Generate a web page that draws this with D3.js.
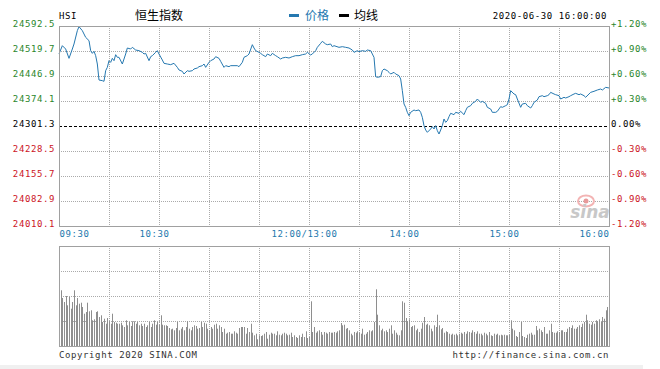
<!DOCTYPE html>
<html>
<head>
<meta charset="utf-8">
<script src="https://cdn.jsdelivr.net/npm/d3@7"></script>
<style>
  body { margin: 0; background: #fff; }
  svg { display: block; }
  .mono { font-family: "DejaVu Sans Mono", monospace; font-size: 9px; letter-spacing: 0.6px; }
  .cjk  { font-family: "Noto Sans CJK SC", sans-serif; font-size: 12px; }
</style>
</head>
<body>
<div id="chart"></div>
<script>
// ── DATA ─────────────────────────────────────────────────────────────────────
const prevClose  = 24301.3;
const priceTicks = [24010.1, 24082.9, 24155.7, 24228.5, 24301.3, 24374.1, 24446.9, 24519.7, 24592.5];
const pctTicks   = [-1.2, -0.9, -0.6, -0.3, 0, 0.3, 0.6, 0.9, 1.2];
// trading minutes since 09:30, lunch break removed (150 = 12:00/13:00, 330 = 16:00)
const timeTicks  = [0, 60, 150, 210, 270, 330];
const timeLabels = ['09:30', '10:30', '12:00/13:00', '14:00', '15:00', '16:00'];
const gridMinutes = [30, 60, 90, 120, 150, 180, 210, 240, 270, 300];
const volGrid    = [25, 50, 75];

const priceMin = [
  0,2,4,6,8,9,11,12,14,15,16,18,19,20,21,22,23,24,26,27,28,29,30,31,32,33,34,35,36,38,
  39,40,41,43,44,46,48,50,51,52,54,55,56,58,59,60,62,63,65,67,69,71,72,74,75,77,78,80,81,83,
  84,86,87,88,90,91,93,94,96,97,99,100,102,103,105,107,108,110,111,113,114,116,117,118,120,121,122,124,125,127,
  128,130,131,133,134,136,138,140,142,144,146,148,149,151,152,154,155,157,158,160,161,163,164,165,
  168,170,172,174,176,177,179,180,182,184,185,187,188,189,190,191,193,194,195,197,
  198,199,201,202,204,205,206,207,208,209,210,211,213,214,216,217,218,219,220,221,
  223,224,225,226,227,228,229,230,231,232,233,234,235,237,238,240,241,243,244,245,
  247,248,250,251,253,254,256,257,259,260,262,263,265,266,268,269,270,271,273,274,
  275,277,278,280,281,283,284,285,287,288,290,291,293,294,295,297,298,300,301,303,
  304,306,307,309,310,312,313,315,316,318,319,321,323,325,326,328,330
];
const priceVal = [
  24511.0,24535.2,24525.5,24498.3,24525.5,24540.1,24578.9,24590.6,24578.9,24569.2,
  24559.5,24549.8,24520.7,24512.9,24518.7,24506.1,24481.8,24435.2,24433.3,24431.4,
  24462.4,24472.1,24491.5,24486.7,24498.3,24491.5,24509.0,24501.3,24501.3,24481.8,
  24496.4,24511.0,24528.4,24525.5,24530.4,24522.6,24520.7,24515.8,24511.0,24512.9,
  24491.5,24503.2,24506.1,24515.8,24520.7,24511.0,24493.5,24483.8,24481.8,24479.9,
  24483.8,24472.1,24464.4,24460.5,24452.7,24462.4,24460.5,24462.4,24467.3,24470.2,
  24474.1,24477.0,24481.8,24472.1,24486.7,24491.5,24496.4,24503.2,24498.3,24489.6,
  24472.1,24477.0,24474.1,24477.0,24477.0,24477.0,24474.1,24486.7,24501.3,24506.1,
  24511.0,24538.1,24528.4,24520.7,24515.8,24512.9,24509.0,24503.2,24511.0,24506.1,
  24512.9,24506.1,24503.2,24496.4,24499.3,24501.3,24499.3,24503.2,24506.1,24506.1,
  24509.0,24511.0,24515.8,24508.1,24511.0,24520.7,24530.4,24542.0,24547.9,24540.1,
  24538.1,24540.1,24532.3,24535.2,
  24530.4,24532.3,24530.4,24528.4,24522.6,24515.8,24520.7,24517.8,24520.7,24518.7,
  24522.6,24520.7,24511.0,24501.3,24445.0,24443.0,24445.0,24462.4,24467.3,24462.4,
  24457.6,24452.7,24457.6,24452.7,24447.9,24438.2,24404.2,24365.4,24355.7,24341.1,
  24331.4,24341.1,24347.9,24345.9,24347.9,24341.1,24326.5,24302.3,24289.7,24282.9,
  24292.6,24299.4,24292.6,24302.3,24287.7,24278.0,24289.7,24302.3,24321.7,24312.0,
  24316.8,24328.5,24338.2,24334.3,24341.1,24338.2,24344.0,24334.3,24345.9,24355.7,
  24360.5,24367.3,24373.1,24379.9,24370.2,24373.1,24367.3,24355.7,24350.8,24341.1,
  24341.1,24344.0,24357.6,24355.7,24360.5,24363.4,24379.9,24404.2,24394.5,24392.5,
  24379.9,24355.7,24365.4,24367.3,24360.5,24353.7,24360.5,24370.2,24377.0,24386.7,
  24389.6,24386.7,24389.6,24392.5,24399.3,24394.5,24392.5,24389.6,24379.9,24384.8,
  24382.8,24386.7,24389.6,24394.5,24396.4,24392.5,24394.5,24389.6,24384.8,24394.5,
  24399.3,24402.3,24406.1,24409.0,24406.1,24413.9,24412.0
];

// per-minute volume (relative units, one bar per trading minute 0..330)
const volume = [
  65.7,55.7,48,44,50,40.7,49,37.3,44,55.7, 40.7,48,42.3,43.3,39,32.3,34,43.3,34.7,35.7,
  25.7,26.7,34,34.7,29,30.7,24,27.3,22.3,28, 24.7,22.3,32.3,24,23.3,22.3,22.3,23.3,20.7,19,
  25.7,20.7,24,20,24.7,24.7,22.3,24,20.7,22.3, 20,22.3,19,20.7,24,19,22.3,25.7,21.3,24,
  21.3,30.7,21.3,20.7,20.7,20,18,16.7,17.3,15.7, 18,24,15.7,17.3,19,15.7,19,24.7,17.3,15.7,
  19,20.7,20,17.3,18,24,19,23.3,22.3,17.3, 15.7,19,17.3,21.3,22.3,17.3,20.7,19,14,17.3,
  12.3,13.3,14,12.3,12.3,14.7,13.3,12.3,18,19, 19,19,12.3,18,14,22.3,13.3,10.7,12.3,6.7,
  10.7,10,10.7,12.3,14,7.3,11.3,13.3,12.3,12.3, 10.7,14.7,11.3,10.7,12.3,13.3,12.3,10.7,11.3,13.3,
  9,10.7,9,8,10.7,9,12.3,9,14.7,8, 9,44.7,14,19,13.3,14.7,15.7,14,11.3,14,
  13.3,12.3,14,13.3,
  13.3,14,13.3,14.7,15.7,23,20.7,21.3,17.3,18, 15.7,12.3,10.7,14,13.3,14.7,13.3,12.3,17.3,11.3,
  12.3,14,15.7,14.7,15.7,24,56.7,31.3,20.7,15.7, 17.3,14.7,15.7,14,17.3,20.7,12.3,15.7,13.3,11.3,
  10.7,15.7,44.7,43.3,28,24.7,26.7,19,20,20.7, 15.7,17.3,14,17.3,23.3,29,21.3,22.3,20.7,17.3,
  14.7,20.7,19,31.3,20.7,16.7,18,13.3,14.7,14, 12.3,11.3,12.3,11.3,12.3,10.7,12.3,13.3,12.3,14,
  12.3,14.7,14,13.3,15.7,14,12.3,14.7,12.3,12.3, 10.7,13.3,12.3,10.7,14,10.7,10,12.3,11.3,12.3,
  10.7,11.3,10.7,11.3,10.7,10.7,11.3,25.7,17.3,15.7, 10,9,14,24,10,9,8,11.3,12.3,13.3,
  11.3,11.3,20,15.7,17.3,15.7,14,19,12.3,12.3, 15.7,22.3,14,13.3,13.3,14.7,14,15.7,15.7,14,
  14,17.3,19,18,20.7,17.3,17.3,19,20.7,19, 22.3,24,31.3,25.7,22.3,21.3,24,22.3,25.7,24.7,
  26.7,24,29,27.3,35.7,39,40.7
];

// ── DIMENSIONS ───────────────────────────────────────────────────────────────
const W = 660, H = 369;
const main = { left: 59, right: 609, top: 26, bottom: 226 };
const vol  = { top: 246, bottom: 346 };
const crisp = v => Math.round(v) + 0.5;

const upColor = '#2a862a', downColor = '#cc1424', lineColor = '#2578b0', timeColor = '#1c78ad';

const svg = d3.select('#chart').append('svg')
  .attr('width', W).attr('height', H);

// ── SCALES ───────────────────────────────────────────────────────────────────
const x    = d3.scaleLinear().domain([0, 330]).range([main.left, main.right]);
const y    = d3.scaleLinear().domain([priceTicks[0], priceTicks[priceTicks.length - 1]]).range([main.bottom, main.top]);
const yPct = d3.scaleLinear().domain([-1.2, 1.2]).range([main.bottom, main.top]);
const yVol = d3.scaleLinear().domain([0, 100]).range([vol.bottom, vol.top]);

// bottom shadow strip
svg.append('rect').attr('x', 0).attr('y', 365).attr('width', 643).attr('height', 4).attr('fill', '#f0f0f0');

// ── GRID: PRICE PANEL ────────────────────────────────────────────────────────
const grid = svg.append('g');
grid.selectAll('.hgrid')
  .data(priceTicks.slice(1, -1).filter(d => d !== prevClose))
  .join('line')
    .attr('x1', main.left).attr('x2', main.right)
    .attr('y1', d => crisp(y(d))).attr('y2', d => crisp(y(d)))
    .attr('stroke', '#aaa').attr('stroke-dasharray', '1,1');

grid.selectAll('.vgrid')
  .data(gridMinutes)
  .join('line')
    .attr('x1', d => crisp(x(d))).attr('x2', d => crisp(x(d)))
    .attr('y1', main.top).attr('y2', main.bottom)
    .attr('stroke', '#aaa').attr('stroke-dasharray', '1,1');

// previous close baseline
grid.append('line')
  .attr('x1', main.left).attr('x2', main.right)
  .attr('y1', crisp(y(prevClose))).attr('y2', crisp(y(prevClose)))
  .attr('stroke', '#000').attr('stroke-dasharray', '3,2');

// ── GRID: VOLUME PANEL ───────────────────────────────────────────────────────
grid.selectAll('.vhgrid')
  .data(volGrid)
  .join('line')
    .attr('x1', main.left).attr('x2', main.right)
    .attr('y1', d => crisp(yVol(d))).attr('y2', d => crisp(yVol(d)))
    .attr('stroke', '#aaa').attr('stroke-dasharray', '1,1');

grid.selectAll('.vvgrid')
  .data(gridMinutes)
  .join('line')
    .attr('x1', d => crisp(x(d))).attr('x2', d => crisp(x(d)))
    .attr('y1', vol.top).attr('y2', vol.bottom)
    .attr('stroke', '#aaa').attr('stroke-dasharray', '1,1');

// ── SINA WATERMARK ───────────────────────────────────────────────────────────
const wm = svg.append('g');
wm.append('ellipse').attr('cx', 586).attr('cy', 201).attr('rx', 8).attr('ry', 5.5)
  .attr('fill', 'none').attr('stroke', '#f3b4b4').attr('stroke-width', 2);
wm.append('circle').attr('cx', 586).attr('cy', 201).attr('r', 2.5).attr('fill', '#e89a9a');
wm.append('text').attr('x', 590).attr('y', 218).attr('text-anchor', 'middle')
  .style('font', 'italic bold 17px "DejaVu Sans", sans-serif').attr('fill', '#c8c8c8').text('sina');

// ── VOLUME BARS ──────────────────────────────────────────────────────────────
svg.append('g').selectAll('rect')
  .data(volume)
  .join('rect')
    .attr('x', (d, i) => Math.round(x(i)))
    .attr('width', 1)
    .attr('y', d => yVol(d))
    .attr('height', d => vol.bottom - yVol(d))
    .attr('fill', '#8e8e8e');

// ── PRICE LINE ───────────────────────────────────────────────────────────────
const pts = priceMin.map((m, i) => ({ m, v: priceVal[i] }));
svg.append('path')
  .datum(pts)
  .attr('fill', 'none')
  .attr('stroke', lineColor)
  .attr('stroke-width', 1)
  .attr('stroke-linejoin', 'round')
  .attr('d', d3.line().x(d => x(d.m)).y(d => y(d.v)));

// ── FRAMES ───────────────────────────────────────────────────────────────────
svg.append('rect')
  .attr('x', main.left + 0.5).attr('y', main.top + 0.5)
  .attr('width', main.right - main.left).attr('height', main.bottom - main.top)
  .attr('fill', 'none').attr('stroke', '#a0a0a0');
svg.append('rect')
  .attr('x', main.left + 0.5).attr('y', vol.top + 0.5)
  .attr('width', main.right - main.left).attr('height', vol.bottom - vol.top)
  .attr('fill', 'none').attr('stroke', '#a0a0a0');

// ── AXES ─────────────────────────────────────────────────────────────────────
const yAxisG = svg.append('g')
  .attr('transform', `translate(${main.left},0)`)
  .call(d3.axisLeft(y).tickValues(priceTicks).tickSize(0).tickPadding(4).tickFormat(d3.format('.1f')));
yAxisG.select('.domain').remove();
yAxisG.selectAll('text')
  .attr('class', 'mono').attr('dy', 0.5)
  .attr('fill', d => d > prevClose ? upColor : d < prevClose ? downColor : '#000');

const pAxisG = svg.append('g')
  .attr('transform', `translate(${main.right},0)`)
  .call(d3.axisRight(yPct).tickValues(pctTicks).tickSize(0).tickPadding(2)
    .tickFormat(d => (d > 0 ? '+' : d < 0 ? '-' : '') + Math.abs(d).toFixed(2) + '%'));
pAxisG.select('.domain').remove();
pAxisG.selectAll('text')
  .attr('class', 'mono').attr('dy', 0.5)
  .attr('fill', d => d > 0 ? upColor : d < 0 ? downColor : '#000');

const xAxisG = svg.append('g')
  .attr('transform', `translate(0,${main.bottom})`)
  .call(d3.axisBottom(x).tickValues(timeTicks).tickSize(0).tickFormat((d, i) => timeLabels[i]));
xAxisG.select('.domain').remove();
xAxisG.selectAll('text')
  .attr('class', 'mono').attr('y', 11).attr('dy', 0)
  .attr('fill', timeColor)
  .attr('text-anchor', (d, i) => i === 0 ? 'start' : i === timeTicks.length - 1 ? 'end' : 'middle')
  .attr('dx', (d, i) => i === 0 || i === timeTicks.length - 1 ? 0 : -5);

// ── HEADER ───────────────────────────────────────────────────────────────────
svg.append('text').attr('class', 'mono').attr('x', 59).attr('y', 18.5).attr('fill', '#000').text('HSI');
svg.append('text').attr('class', 'cjk').attr('x', 135).attr('y', 20).attr('fill', '#000').text('恒生指数');
svg.append('rect').attr('x', 289).attr('y', 14).attr('width', 10).attr('height', 3).attr('fill', lineColor);
svg.append('text').attr('class', 'cjk').attr('x', 305).attr('y', 20).attr('fill', lineColor).text('价格');
svg.append('rect').attr('x', 339).attr('y', 14).attr('width', 10).attr('height', 3).attr('fill', '#000');
svg.append('text').attr('class', 'cjk').attr('x', 354).attr('y', 20).attr('fill', '#000').text('均线');
svg.append('text').attr('class', 'mono').attr('x', 607).attr('y', 18.5).attr('text-anchor', 'end')
  .attr('fill', '#000').text('2020-06-30 16:00:00');

// ── FOOTER ───────────────────────────────────────────────────────────────────
svg.append('text').attr('class', 'mono').attr('x', 59).attr('y', 357.5).attr('fill', '#333')
  .text('Copyright 2020 SINA.COM');
svg.append('text').attr('class', 'mono').attr('x', 609).attr('y', 357.5).attr('text-anchor', 'end')
  .attr('fill', '#333').text('http://finance.sina.com.cn');
</script>
</body>
</html>
